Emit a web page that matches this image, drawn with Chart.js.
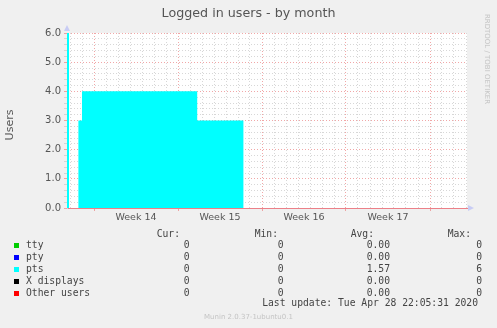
<!DOCTYPE html>
<html>
<head>
<meta charset="utf-8">
<script src="https://cdn.jsdelivr.net/npm/chart.js@4.4.0/dist/chart.umd.min.js"></script>
<style>
  html, body { margin: 0; padding: 0; background: #f0f0f0; }
  #wrap { position: relative; width: 497px; height: 328px; overflow: hidden; font-family: 'DejaVu Sans', sans-serif; color: #555; }
  #chart { position: absolute; left: 0; top: 0; }
  .t { position: absolute; white-space: pre; line-height: 12px; }
  .mono { font-family: 'DejaVu Sans Mono', monospace; font-size: 9.7px; color: #444; }
  .sw { position: absolute; width: 5px; height: 5px; }
</style>
</head>
<body>
<div id="wrap">
  <canvas id="chart" width="497" height="230"></canvas>
  <div class="t" id="title" style="left:0;width:497px;text-align:center;top:6px;font-size:12.7px;line-height:14px;">Logged in users - by month</div>
  <div class="t" style="left:-15px;top:119px;width:50px;text-align:center;font-size:11px;transform:rotate(-90deg);">Users</div>
  <div class="t" style="left:429px;top:55px;width:116px;text-align:center;font-size:7px;line-height:8px;color:#c4c4c4;transform:rotate(90deg);">RRDTOOL / TOBI OETIKER</div>
  <div id="legend"></div>
  <div class="t" style="left:0;width:497px;text-align:center;top:312px;font-size:7px;line-height:10px;color:#c4c4c4;">Munin 2.0.37-1ubuntu0.1</div>
</div>
<script>
// time axis in days from the left edge of the graph
const timeDays = [0, 0.17, 0.95, 1.25, 10.85, 14.7, 33.34];
const ptsUsers = [6, 0, 3, 4, 3, 0, 0];

const weekStarts = [2.25, 9.25, 16.25, 23.25, 30.25];
const weekLabels = ['Week 14', 'Week 15', 'Week 16', 'Week 17'];
const yTickLabels = ['0.0', '1.0', '2.0', '3.0', '4.0', '5.0', '6.0'];

// legend table
const seriesNames = ['tty', 'pty', 'pts', 'X displays', 'Other users'];
const seriesColors = ['#00cc00', '#0000ff', '#00ffff', '#000000', '#ff0000'];
const curValues = ['0', '0', '0', '0', '0'];
const minValues = ['0', '0', '0', '0', '0'];
const avgValues = ['0.00', '0.00', '1.57', '0.00', '0.00'];
const maxValues = ['0', '0', '6', '0', '0'];
const lastUpdate = 'Last update: Tue Apr 28 22:05:31 2020';

const xMax = 400 / 12;
const majorRed = 'rgba(235, 130, 130, 0.7)';
const minorGray = 'rgba(205, 205, 205, 0.8)';

function isWeekStart(v) {
  return weekStarts.some(w => Math.abs(w - v) < 1e-6);
}

const plotDecor = {
  id: 'plotDecor',
  beforeDraw(chart) {
    const { ctx, chartArea: a } = chart;
    ctx.save();
    ctx.fillStyle = '#ffffff';
    ctx.fillRect(a.left, a.top, a.right - a.left, a.bottom - a.top);
    ctx.restore();
  },
  afterDraw(chart) {
    const { ctx, chartArea: a } = chart;
    ctx.save();
    ctx.fillStyle = '#c8ccf4';
    // arrow on top of the y axis
    ctx.beginPath();
    ctx.moveTo(a.left - 3, a.top - 2);
    ctx.lineTo(a.left + 3, a.top - 2);
    ctx.lineTo(a.left, a.top - 8);
    ctx.closePath();
    ctx.fill();
    // arrow at the end of the x axis
    ctx.beginPath();
    ctx.moveTo(a.right + 1, a.bottom - 3);
    ctx.lineTo(a.right + 1, a.bottom + 3);
    ctx.lineTo(a.right + 7, a.bottom);
    ctx.closePath();
    ctx.fill();
    ctx.restore();
  }
};

new Chart(document.getElementById('chart'), {
  type: 'line',
  data: {
    datasets: [{
      label: 'pts',
      data: timeDays.map((t, i) => ({ x: t, y: ptsUsers[i] })),
      stepped: 'before',
      fill: 'origin',
      backgroundColor: '#00ffff',
      borderColor: '#00ffff',
      borderWidth: 0,
      pointRadius: 0
    }]
  },
  options: {
    responsive: false,
    animation: false,
    events: [],
    layout: { padding: { left: 0, right: 30, top: 33, bottom: 0 } },
    plugins: { legend: { display: false }, tooltip: { enabled: false } },
    scales: {
      x: {
        type: 'linear',
        min: 0,
        max: xMax,
        position: 'bottom',
        weight: 1,
        afterBuildTicks: s => {
          const ticks = [];
          for (let d = 0.25; d < xMax; d += 1) ticks.push({ value: d });
          s.ticks = ticks;
        },
        afterFit: s => { s.height = 3; },
        ticks: { display: false },
        grid: {
          color: c => isWeekStart(c.tick.value) ? majorRed : minorGray,
          tickColor: c => isWeekStart(c.tick.value) ? majorRed : 'rgba(0,0,0,0)',
          tickLength: 3,
          lineWidth: 1
        },
        border: { display: true, color: '#ec8088', width: 1, dash: [1, 2] }
      },
      x2: {
        type: 'linear',
        min: 0,
        max: xMax,
        position: 'bottom',
        weight: 2,
        afterBuildTicks: s => {
          s.ticks = weekLabels.map((_, i) => ({ value: (weekStarts[i] + weekStarts[i + 1]) / 2 }));
        },
        afterFit: s => { s.height = 19; },
        grid: { display: false },
        border: { display: false },
        ticks: {
          autoSkip: false,
          maxRotation: 0,
          padding: -7,
          color: '#555',
          font: { family: 'DejaVu Sans', size: 9.5 },
          callback: (v, i) => weekLabels[i]
        }
      },
      y: {
        type: 'linear',
        min: 0,
        max: 6,
        afterBuildTicks: s => {
          const ticks = [];
          for (let k = 0; k <= 30; k++) ticks.push({ value: k / 5 });
          s.ticks = ticks;
        },
        afterFit: s => { s.width = 67; },
        ticks: {
          autoSkip: false,
          padding: 3,
          color: '#555',
          font: { family: 'DejaVu Sans', size: 10 },
          callback: (v, i) => (i % 5 === 0 ? yTickLabels[i / 5] : '')
        },
        grid: {
          color: c => (c.index % 5 === 0 ? majorRed : minorGray),
          tickColor: c => (c.index % 5 === 0 ? majorRed : minorGray),
          tickLength: 3,
          lineWidth: 1
        },
        border: { display: true, color: '#c8ccf4', width: 1, dash: [1, 2] }
      }
    }
  },
  plugins: [plotDecor]
});

// legend table below the chart
const legend = document.getElementById('legend');
function cell(text, rightEdge, centerY) {
  const el = document.createElement('div');
  el.className = 't mono';
  el.textContent = text;
  el.style.right = (497 - rightEdge) + 'px';
  el.style.top = (centerY - 6) + 'px';
  legend.appendChild(el);
}
cell('Cur:', 180, 233.5);
cell('Min:', 278, 233.5);
cell('Avg:', 374, 233.5);
cell('Max:', 471, 233.5);
seriesNames.forEach((name, i) => {
  const y = 244.5 + i * 12;
  const sw = document.createElement('div');
  sw.className = 'sw';
  sw.style.left = '14px';
  sw.style.top = (y - 2) + 'px';
  sw.style.background = seriesColors[i];
  legend.appendChild(sw);
  const nm = document.createElement('div');
  nm.className = 't mono';
  nm.textContent = name;
  nm.style.left = '26px';
  nm.style.top = (y - 6) + 'px';
  legend.appendChild(nm);
  cell(curValues[i], 189.5, y);
  cell(minValues[i], 283.5, y);
  cell(avgValues[i], 390, y);
  cell(maxValues[i], 482, y);
});
cell(lastUpdate, 478, 303);
</script>
</body>
</html>
